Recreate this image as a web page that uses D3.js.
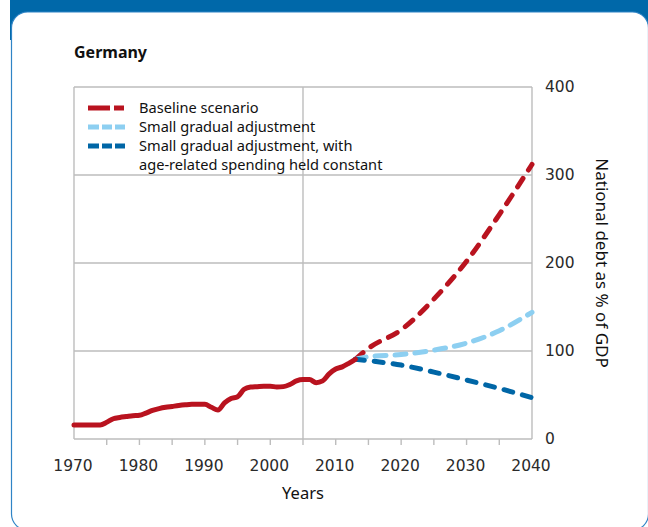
<!DOCTYPE html>
<html>
<head>
<meta charset="utf-8">
<script src="https://cdn.jsdelivr.net/npm/d3@7"></script>
<style>
html,body{margin:0;padding:0;background:#fff;}
svg{display:block;}
</style>
</head>
<body>
<svg id="chart" width="648" height="527"></svg>
<script>
// ---- data ----
const histYears = [1970,1971,1972,1973,1974,1975,1976,1977,1978,1979,1980,1981,1982,1983,1984,1985,1986,1987,1988,1989,1990,1991,1992,1993,1994,1995,1996,1997,1998,1999,2000,2001,2002,2003,2004,2005,2006,2007,2008,2009,2010,2011,2012,2013];
const histDebt  = [16,16,16,16,16,19,23,24.5,25.5,26.5,27,29.5,32.5,34.5,36,37,38,38.8,39.4,39.5,39.4,36,33,41,46,48,56.5,59,59.5,60,60,59,59.5,62,66,67.5,67.5,64,66,74,79.5,82,86,90.5];
const projYears = [2013,2015,2020,2025,2030,2035,2040];
const baseline  = [90.5,103,124,159,202,255,312];
const smallAdj  = [90.5,93.5,96,101,109,123,144];
const smallAdjConst = [90.5,89,84,76,67,57.5,47];
const xTicksMajor = [1970,1980,1990,2000,2010,2020,2030,2040];
const xTicksMinor = [1975,1980,1985,1990,1995,2000,2005,2010,2015,2020,2025,2030,2035];
const yTicks = [0,100,200,300,400];
const legendItems = [
  {lines:["Baseline scenario"], color:"#b9131f", dash:"22,4,10"},
  {lines:["Small gradual adjustment"], color:"#8dcff1", dash:"11,3,10,3,10"},
  {lines:["Small gradual adjustment, with","age-related spending held constant"], color:"#0066a6", dash:"11,3,10,3,10"}
];

const svg = d3.select("#chart");
const W = 648, H = 527;

// ---- card / header ----
svg.append("rect").attr("x",10).attr("y",0).attr("width",W-10).attr("height",40).attr("fill","#0068a9");
svg.append("rect").attr("x",11.5).attr("y",12).attr("width",637).attr("height",518)
  .attr("rx",16).attr("ry",16).attr("fill","#fff").attr("stroke","#2f84c6").attr("stroke-width",1.2);

// ---- scales ----
const x = d3.scaleLinear().domain([1970,2040]).range([74,532]);
const y = d3.scaleLinear().domain([0,400]).range([439,87]);

const gridColor = "#bdbdbd";
// horizontal grid
svg.append("g").selectAll("line").data(yTicks).join("line")
  .attr("x1",x(1970)).attr("x2",x(2040))
  .attr("y1",d=>y(d)).attr("y2",d=>y(d))
  .attr("stroke",gridColor).attr("stroke-width",1.4);
// vertical gridline at 2005
svg.append("line").attr("x1",x(2005)).attr("x2",x(2005)).attr("y1",y(0)).attr("y2",y(400))
  .attr("stroke",gridColor).attr("stroke-width",1.4);
// plot borders
svg.append("line").attr("x1",x(1970)).attr("x2",x(1970)).attr("y1",y(0)).attr("y2",y(400))
  .attr("stroke",gridColor).attr("stroke-width",1.4);
svg.append("line").attr("x1",x(2040)).attr("x2",x(2040)).attr("y1",y(0)).attr("y2",y(400))
  .attr("stroke",gridColor).attr("stroke-width",1.4);

// x axis
const xAxis = d3.axisBottom(x).tickValues(xTicksMajor).tickFormat(d3.format("d")).tickSize(0).tickPadding(21);
const gx = svg.append("g").attr("transform",`translate(-1.5,${y(0)})`).call(xAxis);
gx.select(".domain").remove();
gx.selectAll("text").attr("font-family","DejaVu Sans").attr("font-size","15.5px").attr("fill","#2a2a2a");
svg.append("g").selectAll("line").data(xTicksMinor).join("line")
  .attr("x1",d=>x(d)).attr("x2",d=>x(d)).attr("y1",y(0)).attr("y2",y(0)+6)
  .attr("stroke",gridColor).attr("stroke-width",1.4);

// y axis (right)
const yAxis = d3.axisRight(y).tickValues(yTicks).tickSize(0).tickPadding(13);
const gy = svg.append("g").attr("transform",`translate(${x(2040)},0)`).call(yAxis);
gy.select(".domain").remove();
gy.selectAll("text").attr("font-family","DejaVu Sans").attr("font-size","15.5px").attr("fill","#2a2a2a");

// axis titles
svg.append("text").attr("x",x(2005)).attr("y",499).attr("text-anchor","middle")
  .attr("font-family","Noto Sans").attr("font-size","16.5px").attr("fill","#111").text("Years");
svg.append("text").attr("transform",`translate(596,${(y(0)+y(400))/2}) rotate(90)`).attr("text-anchor","middle")
  .attr("font-family","Noto Sans").attr("font-size","17px").attr("fill","#111").text("National debt as % of GDP");

// title
svg.append("text").attr("x",74).attr("y",58).attr("font-family","Noto Sans").attr("font-weight","bold")
  .attr("font-size","16px").attr("fill","#111").text("Germany");

// ---- lines ----
const line = d3.line().x(d=>x(d[0])).y(d=>y(d[1])).curve(d3.curveMonotoneX);
const pair = (xs,ys)=>xs.map((v,i)=>[v,ys[i]]);

svg.append("path").datum(pair(projYears,baseline)).attr("d",line)
  .attr("fill","none").attr("stroke","#b9131f").attr("stroke-width",5).attr("stroke-dasharray","10,10").attr("stroke-linecap","round");
svg.append("path").datum(pair(projYears,smallAdj)).attr("d",line)
  .attr("fill","none").attr("stroke","#8dcff1").attr("stroke-width",5).attr("stroke-dasharray","11,9").attr("stroke-linecap","round");
svg.append("path").datum(pair(projYears,smallAdjConst)).attr("d",line)
  .attr("fill","none").attr("stroke","#0066a6").attr("stroke-width",5).attr("stroke-dasharray","9,10").attr("stroke-linecap","round");
svg.append("path").datum(pair(histYears,histDebt)).attr("d",line)
  .attr("fill","none").attr("stroke","#b9131f").attr("stroke-width",5).attr("stroke-linejoin","round").attr("stroke-linecap","round");

// ---- legend ----
const lg = svg.append("g");
let ly = 108;
legendItems.forEach(it=>{
  lg.append("line").attr("x1",88).attr("x2",125).attr("y1",ly).attr("y2",ly)
    .attr("stroke",it.color).attr("stroke-width",5).attr("stroke-dasharray",it.dash);
  it.lines.forEach((t,i)=>{
    lg.append("text").attr("x",139).attr("y",ly+5+i*19).attr("font-family","Noto Sans")
      .attr("font-size","14.6px").attr("fill","#111").text(t);
  });
  ly += 19*it.lines.length;
});
</script>
</body>
</html>
